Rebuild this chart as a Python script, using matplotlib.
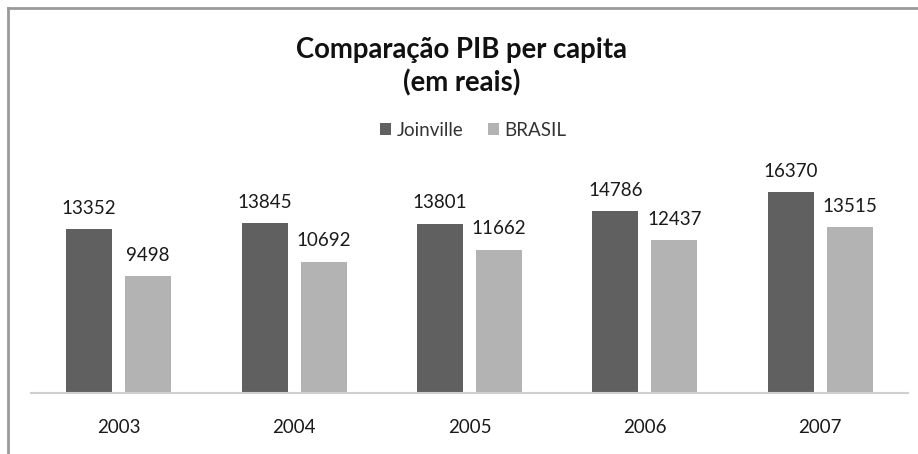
import numpy as np
import matplotlib
matplotlib.use('Agg')
import matplotlib.pyplot as plt
from matplotlib.lines import Line2D

plt.rcParams['font.family'] = ['Lato', 'DejaVu Sans']

# dados
anos = ['2003', '2004', '2005', '2006', '2007']
joinville = [13352, 13845, 13801, 14786, 16370]
brasil = [9498, 10692, 11662, 12437, 13515]

cor_j = '#606060'
cor_b = '#b3b3b3'

W, H = 918, 454
fig = plt.figure(figsize=(W / 100, H / 100), dpi=100)

# area do grafico em pixels: x 31..908, base em y=393
ax = fig.add_axes([31 / W, (H - 393) / H, 877 / W, 221 / H])

x = np.arange(len(anos))
larg = 0.262
desl = 0.168
b1 = ax.bar(x - desl, joinville, width=larg, color=cor_j, label='Joinville')
b2 = ax.bar(x + desl, brasil, width=larg, color=cor_b, label='BRASIL')

for barras in (b1, b2):
    for r in barras:
        ax.annotate(f'{int(r.get_height())}',
                    (r.get_x() + r.get_width() / 2, r.get_height()),
                    xytext=(0, 15), textcoords='offset points',
                    ha='center', va='center', fontsize=13.5, color='#1a1a1a')

ax.set_xlim(-0.5, len(anos) - 0.5)
ax.set_ylim(0, 18000)
ax.set_xticks(x)
ax.set_xticklabels(anos, fontsize=13.5, color='#1a1a1a')
ax.tick_params(axis='x', length=0, pad=19)
ax.set_yticks([])
for s in ('top', 'right', 'left'):
    ax.spines[s].set_visible(False)
ax.spines['bottom'].set_color('#d0d0d0')
ax.spines['bottom'].set_linewidth(1.5)

# titulo e legenda
fig.text(462 / W, 1 - 50 / H, 'Comparação PIB per capita', ha='center',
         va='center', fontsize=19.8, fontweight='bold', color='#111111')
fig.text(462 / W, 1 - 83 / H, '(em reais)', ha='center', va='center',
         fontsize=19.8, fontweight='bold', color='#111111')
fig.legend(handles=[b1, b2], loc='center',
           bbox_to_anchor=(473 / W, 1 - 130 / H),
           ncol=2, frameon=False, fontsize=13.5, handlelength=0.6,
           handleheight=0.6, handletextpad=0.3, columnspacing=1.3,
           labelcolor='#333333')

# moldura (topo e esquerda)
fig.add_artist(Line2D([8 / W, 1], [1 - 8 / H, 1 - 8 / H],
                      transform=fig.transFigure, color='#9a9a9a', lw=2))
fig.add_artist(Line2D([8 / W, 8 / W], [0, 1 - 8 / H],
                      transform=fig.transFigure, color='#9a9a9a', lw=2))

fig.savefig('out.png', dpi=100)
